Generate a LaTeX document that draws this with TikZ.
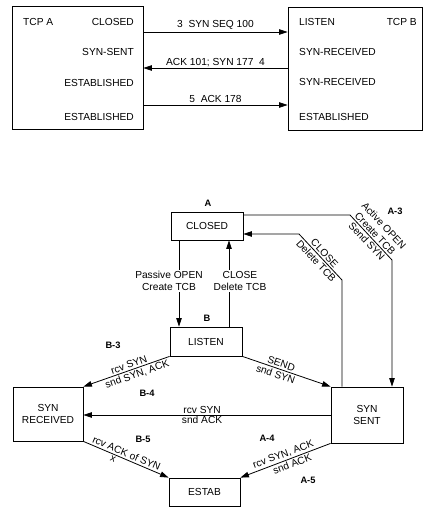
\documentclass[tikz,border=0pt]{standalone}
\usepackage{fontspec}
\setmainfont{Liberation Sans}
\usetikzlibrary{arrows.meta}
\begin{document}
\begin{tikzpicture}[x=1pt,y=-1pt,
  every node/.style={font=\fontsize{10.2}{12}\selectfont, inner sep=1pt},
  box/.style={draw, line width=0.8pt, align=center},
  line/.style={line width=0.8pt},
  arr/.style={line width=0.8pt, -{Triangle[length=8.5pt,width=5.5pt]}},
  tag/.style={font=\fontsize{9.3}{10}\selectfont\bfseries},
  lbl/.style={sloped, inner sep=1.8pt},
  wlbl/.style={fill=white, align=center, inner sep=1pt}]
\useasboundingbox (0,0) rectangle (438,520);
% ---------- top diagram ----------
\node[box, minimum width=131pt, minimum height=123pt] (ta) at (77.5,67.5) {};
\node[box, minimum width=134pt, minimum height=123pt] (tb) at (355,68.5) {};
\node[anchor=west] (tcpa) at (22,22) {TCP A};
\node[anchor=east] (la1) at (135,22) {CLOSED};
\node[anchor=east] (la2) at (135,52) {SYN-SENT};
\node[anchor=east] (la3) at (135,83) {ESTABLISHED};
\node[anchor=east] (la4) at (135,117) {ESTABLISHED};
\node[anchor=east] (tcpb) at (418,22) {TCP B};
\node[anchor=west] (lb1) at (298,22) {LISTEN};
\node[anchor=west] (lb2) at (298,52) {SYN-RECEIVED};
\node[anchor=west] (lb3) at (298,82) {SYN-RECEIVED};
\node[anchor=west] (lb4) at (298,117) {ESTABLISHED};
\coordinate (r1) at (0,32);
\coordinate (r2) at (0,68);
\coordinate (r3) at (0,105);
\draw[arr] (ta.east |- r1) -- node[above=1pt] {3\ \ SYN SEQ 100} (tb.west |- r1);
\draw[arr] (tb.west |- r2) -- node[above=0pt] {ACK 101; SYN 177\ \ 4} (ta.east |- r2);
\draw[arr] (ta.east |- r3) -- node[above=1pt] {5\ \ ACK 178} (tb.west |- r3);
% ---------- bottom diagram ----------
\node[box, minimum width=72pt, minimum height=28pt] (closed) at (207,226) {CLOSED};
\node[box, minimum width=72pt, minimum height=29pt] (listen) at (206,341.5) {LISTEN};
\node[box, minimum width=70pt, minimum height=54pt] (synrec) at (48,414) {SYN\\RECEIVED};
\node[box, minimum width=72pt, minimum height=56pt] (synsent) at (367,415) {SYN\\SENT};
\node[box, minimum width=71pt, minimum height=28pt] (estab) at (204.5,492) {ESTAB};
% state tags
\node[tag] (tA) at (208,203) {A};
\node[tag] (tB) at (207,318) {B};
\node[tag] (tA3) at (395,211) {A-3};
\node[tag] (tB3) at (113,345) {B-3};
\node[tag] (tB4) at (147,393) {B-4};
\node[tag] (tB5) at (143,439) {B-5};
\node[tag] (tA4) at (267,438) {A-4};
\node[tag] (tA5) at (308,480) {A-5};
% active open
\coordinate (ao1) at (350,215);
\coordinate (ao2) at (392,260);
\draw[arr] (closed.east |- ao1) -- (ao1) -- (ao2) -- (ao2 |- synsent.north);
\path (ao1) -- node[lbl, above, align=center] {Active OPEN\\Create TCB} node[lbl, below] {Send SYN} (ao2);
% close from syn sent
\coordinate (cb1) at (342,280);
\coordinate (cb2) at (299,234);
\draw[arr] (cb1 |- synsent.north) -- (cb1) -- (cb2) -- (closed.east |- cb2);
\path (cb2) -- node[lbl, above] {CLOSE} node[lbl, below] {Delete TCB} (cb1);
% passive open / close
\coordinate (p1) at (179,0);
\coordinate (p2) at (229,0);
\draw[arr] (p1 |- closed.south) -- (p1 |- listen.north);
\node[wlbl] (pl) at (169,281) {Passive OPEN\\Create TCB};
\draw[arr] (p2 |- listen.north) -- (p2 |- closed.south);
\node[wlbl] (cl) at (240,281) {CLOSE\\Delete TCB};
% listen -> syn received
\draw[arr] (listen.south west) -- (synrec.north east);
\path (synrec.north east) -- node[lbl, above, pos=0.55] {rcv SYN} node[lbl, below, pos=0.6] {snd SYN, ACK} (listen.south west);
% listen -> syn sent
\draw[arr] (listen.south east) -- node[lbl, above, pos=0.42] {SEND} node[lbl, below, pos=0.4] {snd SYN} (synsent.north west);
% syn sent -> syn received
\draw[arr] (synsent.west) -- (synrec.east |- synsent.west);
\path (synrec.east |- synsent.west) -- node[above, pos=0.48] {rcv SYN} node[below, pos=0.48] {snd ACK} (synsent.west);
% syn received -> estab
\draw[arr] (synrec.south east) -- node[lbl, above, pos=0.48] {rcv ACK of SYN} node[lbl, below, pos=0.37] {x} (estab.north west);
% syn sent -> estab
\draw[arr] (synsent.south west) -- (estab.north east);
\path (estab.north east) -- node[lbl, above, pos=0.5] {rcv SYN, ACK} node[lbl, below, pos=0.55] {snd ACK} (synsent.south west);
\end{tikzpicture}
\end{document}
